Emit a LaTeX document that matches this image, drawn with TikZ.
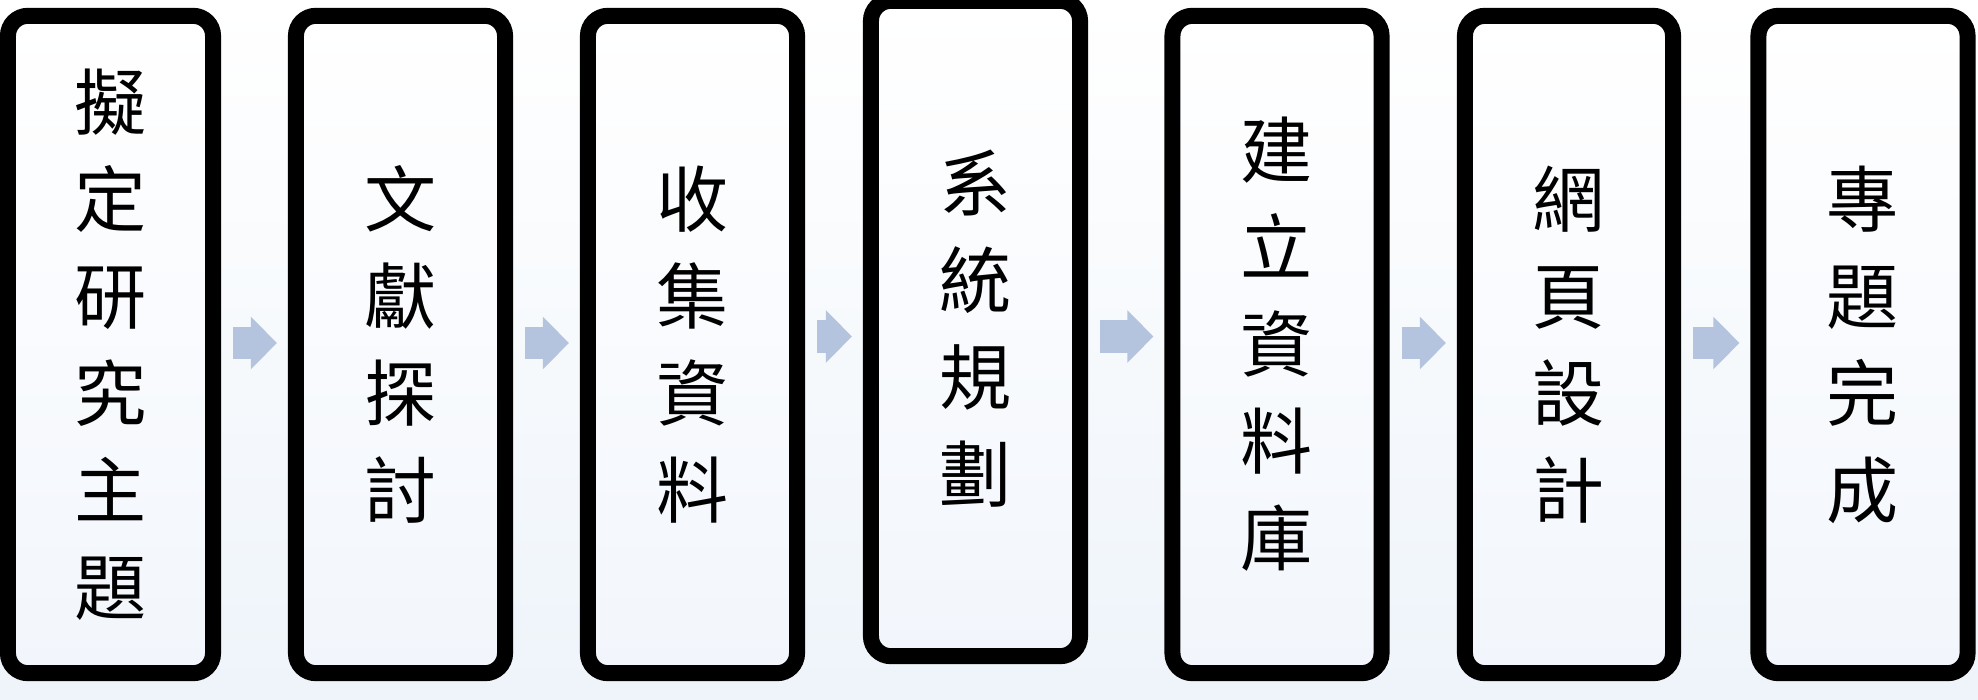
\documentclass[tikz,border=0pt]{standalone}
\usepackage{fontspec}
\newfontfamily\cjk{Noto Sans CJK TC}
\usetikzlibrary{arrows.meta}
\definecolor{arrowblue}{HTML}{B4C4DE}
\definecolor{bgblue}{HTML}{EEF4FA}
\definecolor{boxblue}{HTML}{F2F6FC}
\begin{document}
\begin{tikzpicture}[x=0.01cm,y=-0.01cm,
  stage/.style={draw=black, line width=0.16cm, rounded corners=0.2cm,
    top color=white, bottom color=boxblue,
    minimum width=2.09cm, minimum height=6.57cm, inner sep=0pt,
    align=center, text=black,
    font=\cjk\fontsize{20.5pt}{27.6pt}\selectfont},
  flow/.style={draw=arrowblue, line width=0.32cm,
    -{Triangle[length=0.26cm, width=0.51cm]},
    shorten <=0.12cm, shorten >=0.11cm}]
\useasboundingbox (0,0) rectangle (1978,700);
\fill[top color=white, bottom color=bgblue] (0,0) rectangle (1978,700);

\node[stage, minimum width=2.05cm] (b1) at (110.5,344.5) {擬\\定\\研\\究\\主\\題};
\node[stage] (b2) at (400.5,344.5) {文\\獻\\探\\討};
\node[stage] (b3) at (692.5,344.5) {收\\集\\資\\料};
\node[stage, minimum height=6.55cm] (b4) at (975.5,328.5) {系\\統\\規\\劃};
\node[stage] (b5) at (1277,344.5) {建\\立\\資\\料\\庫};
\node[stage, minimum width=2.08cm] (b6) at (1569,344.5) {網\\頁\\設\\計};
\node[stage] (b7) at (1863,344.5) {專\\題\\完\\成};

\coordinate (a1) at ([yshift=0.015cm]b1.east);
\coordinate (a2) at ([yshift=0.015cm]b2.east);
\coordinate (a3) at ([yshift=0.08cm]b3.east);
\coordinate (a4) at ([yshift=-0.08cm]b4.east);
\coordinate (a5) at ([yshift=0.015cm]b5.east);
\coordinate (a6) at ([yshift=0.015cm]b6.east);

\draw[flow] (a1) -- (a1 -| b2.west);
\draw[flow] (a2) -- (a2 -| b3.west);
\draw[flow] (a3) -- (a3 -| b4.west);
\draw[flow] (a4) -- (a4 -| b5.west);
\draw[flow] (a5) -- (a5 -| b6.west);
\draw[flow] (a6) -- (a6 -| b7.west);
\end{tikzpicture}
\end{document}
